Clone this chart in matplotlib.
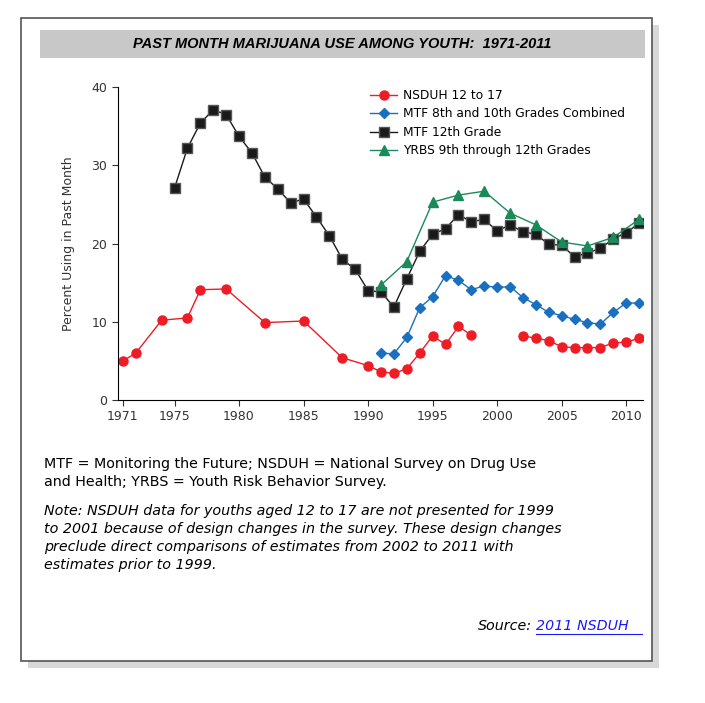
import matplotlib.pyplot as plt
from matplotlib.patches import Rectangle

nsduh_years = [1971, 1972, 1974, 1976, 1977, 1979, 1982, 1985, 1988, 1990, 1991, 1992, 1993,
               1994, 1995, 1996, 1997, 1998, 1999, 2000, 2001, 2002, 2003, 2004, 2005, 2006,
               2007, 2008, 2009, 2010, 2011]
nsduh_vals = [5.0, 6.0, 10.2, 10.5, 14.1, 14.2, 9.9, 10.1, 5.4, 4.4, 3.6, 3.4, 4.0,
              6.0, 8.2, 7.1, 9.4, 8.3, None, None, None, 8.2, 7.9, 7.6, 6.8, 6.7,
              6.7, 6.7, 7.3, 7.4, 7.9]

mtf810_years = list(range(1991, 2012))
mtf810_vals = [6.0, 5.9, 8.0, 11.8, 13.2, 15.9, 15.3, 14.1, 14.6, 14.4, 14.5, 13.1, 12.2,
               11.2, 10.8, 10.3, 9.9, 9.7, 11.2, 12.4, 12.4]

mtf12_years = list(range(1975, 2012))
mtf12_vals = [27.1, 32.2, 35.4, 37.1, 36.5, 33.7, 31.6, 28.5, 27.0, 25.2, 25.7, 23.4, 21.0,
              18.0, 16.7, 14.0, 13.8, 11.9, 15.5, 19.0, 21.2, 21.9, 23.7, 22.8, 23.1, 21.6,
              22.4, 21.5, 21.2, 19.9, 19.8, 18.3, 18.8, 19.4, 20.6, 21.4, 22.6]

yrbs_years = list(range(1991, 2012, 2))
yrbs_vals = [14.7, 17.7, 25.3, 26.2, 26.7, 23.9, 22.4, 20.2, 19.7, 20.8, 23.1]

xticks = [1971, 1975, 1980, 1985, 1990, 1995, 2000, 2005, 2010]

nsduh_plot = [float('nan') if v is None else v for v in nsduh_vals]

fig = plt.figure(figsize=(7.05, 7.03), dpi=100)

# shadowed frame
fig.patches.append(Rectangle((0.040, 0.050), 0.895, 0.915, transform=fig.transFigure,
                             facecolor='#d8d8d8', edgecolor='none', zorder=-3))
fig.patches.append(Rectangle((0.030, 0.060), 0.895, 0.915, transform=fig.transFigure,
                             facecolor='white', edgecolor='#555555', lw=1.2, zorder=-2))
# title bar
fig.patches.append(Rectangle((0.057, 0.918), 0.858, 0.040, transform=fig.transFigure,
                             facecolor='#c8c8c8', edgecolor='none', zorder=-1))
fig.text(0.486, 0.938, 'PAST MONTH MARIJUANA USE AMONG YOUTH:  1971-2011',
         ha='center', va='center', fontsize=10.5, fontweight='bold', style='italic',
         family='Liberation Sans')

ax = fig.add_axes([0.167, 0.431, 0.745, 0.445])
ax.plot(nsduh_years, nsduh_plot, color='#ee1c25', marker='o', ms=6.5, lw=1,
        label='NSDUH 12 to 17')
ax.plot(mtf810_years, mtf810_vals, color='#1b6fbf', marker='D', ms=5, lw=1,
        label='MTF 8th and 10th Grades Combined')
ax.plot(mtf12_years, mtf12_vals, color='#1a1a1a', marker='s', ms=6.5, lw=1,
        mec='#555555', label='MTF 12th Grade')
ax.plot(yrbs_years, yrbs_vals, color='#1a8a5a', marker='^', ms=7, lw=1,
        label='YRBS 9th through 12th Grades')

ax.set_xlim(1970.6, 2011.3)
ax.set_ylim(0, 40)
ax.set_xticks(xticks)
ax.set_yticks([0, 10, 20, 30, 40])
ax.tick_params(labelsize=9, colors='#333333', length=4)
ax.spines['top'].set_visible(False)
ax.spines['right'].set_visible(False)
ax.set_ylabel('Percent Using in Past Month', fontsize=9, color='#333333', labelpad=12)
ax.legend(loc='upper left', bbox_to_anchor=(0.46, 1.03), frameon=False, fontsize=8.8,
          handlelength=2.2, labelspacing=0.45, handletextpad=0.5)

fig.text(0.062, 0.350, 'MTF = Monitoring the Future; NSDUH = National Survey on Drug Use\n'
         'and Health; YRBS = Youth Risk Behavior Survey.', fontsize=10.3,
         va='top', linespacing=1.35, family='DejaVu Sans')
fig.text(0.062, 0.283, 'Note: NSDUH data for youths aged 12 to 17 are not presented for 1999\n'
         'to 2001 because of design changes in the survey. These design changes\n'
         'preclude direct comparisons of estimates from 2002 to 2011 with\n'
         'estimates prior to 1999.', fontsize=10.3, style='italic', va='top',
         linespacing=1.35, family='DejaVu Sans')
fig.text(0.755, 0.110, 'Source:', fontsize=10.3, style='italic', ha='right', va='center')
fig.text(0.760, 0.110, '2011 NSDUH', fontsize=10.3, style='italic', color='#1a1aff',
         va='center')
fig.add_artist(plt.Line2D([0.760, 0.910], [0.098, 0.098], color='#1a1aff', lw=0.8,
                          transform=fig.transFigure))

fig.savefig('out.png', dpi=100)
